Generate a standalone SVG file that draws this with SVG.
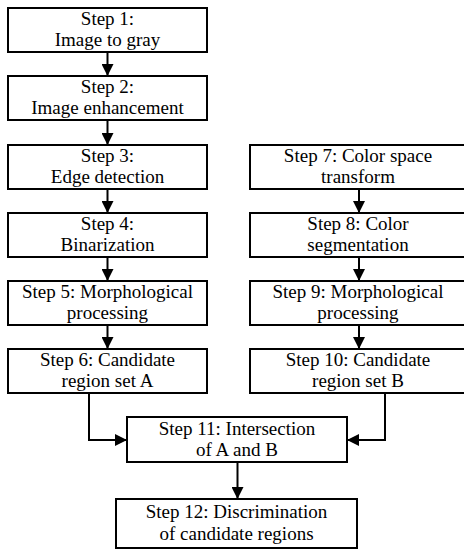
<svg xmlns="http://www.w3.org/2000/svg" width="464" height="550" viewBox="0 0 464 550">
<style>
rect.box{fill:#fff;stroke:#000;stroke-width:2}
text{font-family:"Liberation Serif","Times New Roman",serif;font-size:19px;fill:#000;text-anchor:middle}
.conn path,.conn line{stroke:#000;stroke-width:2;fill:none}
</style>
<defs>
<marker id="ah" viewBox="0 0 12 12" refX="12" refY="6" markerWidth="12" markerHeight="12" markerUnits="userSpaceOnUse" orient="auto">
<path d="M0,0 L12,6 L0,12 Z" fill="#000"/>
</marker>
</defs>
<rect width="464" height="550" fill="#fff"/>
<g class="conn" id="connectors">
<line x1="107.5" y1="52" x2="107.5" y2="76" marker-end="url(#ah)"/>
<line x1="107.5" y1="120" x2="107.5" y2="145" marker-end="url(#ah)"/>
<line x1="107.5" y1="189" x2="107.5" y2="213" marker-end="url(#ah)"/>
<line x1="107.5" y1="257" x2="107.5" y2="281" marker-end="url(#ah)"/>
<line x1="107.5" y1="325" x2="107.5" y2="349" marker-end="url(#ah)"/>
<line x1="359" y1="189" x2="359" y2="213" marker-end="url(#ah)"/>
<line x1="359" y1="257" x2="359" y2="281" marker-end="url(#ah)"/>
<line x1="359" y1="325" x2="359" y2="349" marker-end="url(#ah)"/>
<path d="M89,393 V440 H127" marker-end="url(#ah)"/>
<path d="M385,393 V440 H347" marker-end="url(#ah)"/>
<line x1="237.5" y1="462" x2="237.5" y2="499" marker-end="url(#ah)"/>
</g>
<g id="step1"><rect class="box" x="8" y="8" width="199" height="44"/><text x="107.5" y="25">Step 1:</text><text x="107.5" y="45.5">Image to gray</text></g>
<g id="step2"><rect class="box" x="8" y="76" width="199" height="44"/><text x="107.5" y="93">Step 2:</text><text x="107.5" y="113.5">Image enhancement</text></g>
<g id="step3"><rect class="box" x="8" y="145" width="199" height="44"/><text x="107.5" y="162">Step 3:</text><text x="107.5" y="182.5">Edge detection</text></g>
<g id="step4"><rect class="box" x="8" y="213" width="199" height="44"/><text x="107.5" y="230">Step 4:</text><text x="107.5" y="250.5">Binarization</text></g>
<g id="step5"><rect class="box" x="8" y="281" width="199" height="44"/><text x="107.5" y="298">Step 5: Morphological</text><text x="107.5" y="318.5">processing</text></g>
<g id="step6"><rect class="box" x="8" y="349" width="199" height="44"/><text x="107.5" y="366">Step 6: Candidate</text><text x="107.5" y="386.5">region set A</text></g>
<g id="step7"><rect class="box" x="250" y="145" width="217" height="44"/><text x="358" y="162">Step 7: Color space</text><text x="358" y="182.5">transform</text></g>
<g id="step8"><rect class="box" x="250" y="213" width="217" height="44"/><text x="358" y="230">Step 8: Color</text><text x="358" y="250.5">segmentation</text></g>
<g id="step9"><rect class="box" x="250" y="281" width="217" height="44"/><text x="358" y="298">Step 9: Morphological</text><text x="358" y="318.5">processing</text></g>
<g id="step10"><rect class="box" x="250" y="349" width="217" height="44"/><text x="358" y="366">Step 10: Candidate</text><text x="358" y="386.5">region set B</text></g>
<g id="step11"><rect class="box" x="127" y="417" width="220" height="45"/><text x="237" y="435">Step 11: Intersection</text><text x="237" y="456">of A and B</text></g>
<g id="step12"><rect class="box" x="116" y="499" width="241" height="49"/><text x="236.5" y="518">Step 12: Discrimination</text><text x="236.5" y="539.5">of candidate regions</text></g>
</svg>
